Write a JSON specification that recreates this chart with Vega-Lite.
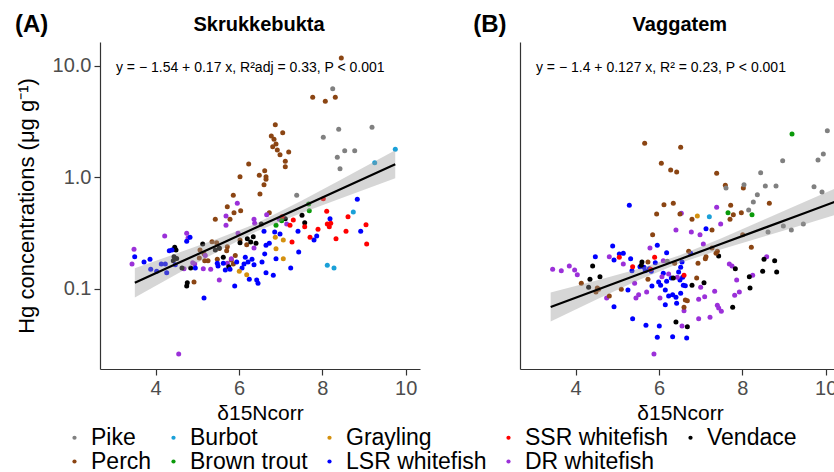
{
  "$schema": "https://vega.github.io/schema/vega-lite/v6.json",
  "padding": {"left": 15, "top": 13, "right": 0, "bottom": 0},
  "bounds": "flush",
  "spacing": 100,
  "datasets": {
    "skr": [
      {"species":"Perch","d15N":5.863,"Hg":0.690},{"species":"Perch","d15N":6.503,"Hg":0.710},{"species":"Perch","d15N":5.719,"Hg":0.546},{"species":"Perch","d15N":5.88,"Hg":0.482},{"species":"Perch","d15N":6.04,"Hg":0.503},{"species":"Perch","d15N":5.431,"Hg":0.421},{"species":"Perch","d15N":5.784,"Hg":0.421},{"species":"Perch","d15N":5.352,"Hg":0.265},{"species":"Perch","d15N":5.464,"Hg":0.260},{"species":"Perch","d15N":5.719,"Hg":0.239},{"species":"Perch","d15N":5.704,"Hg":0.220},{"species":"Perch","d15N":5.527,"Hg":0.230},{"species":"Perch","d15N":5.064,"Hg":0.2235},{"species":"Perch","d15N":5.16,"Hg":0.206},{"species":"Perch","d15N":5.047,"Hg":0.1895},{"species":"Perch","d15N":5.177,"Hg":0.179},{"species":"Perch","d15N":5.256,"Hg":0.179},{"species":"Perch","d15N":5.479,"Hg":0.1845},{"species":"Perch","d15N":5.911,"Hg":0.200},{"species":"Perch","d15N":5.815,"Hg":0.182},{"species":"Perch","d15N":5.863,"Hg":0.1675},{"species":"Perch","d15N":4.92,"Hg":0.1155},{"species":"Perch","d15N":6.185,"Hg":0.249},{"species":"Perch","d15N":6.024,"Hg":0.2747},{"species":"Perch","d15N":6.727,"Hg":0.482},
      {"species":"Perch","d15N":8.455,"Hg":11.72},{"species":"Perch","d15N":7.769,"Hg":5.21},{"species":"Perch","d15N":8.071,"Hg":4.80},{"species":"Perch","d15N":8.311,"Hg":5.21},{"species":"Perch","d15N":6.871,"Hg":2.96},{"species":"Perch","d15N":7.049,"Hg":2.51},{"species":"Perch","d15N":6.775,"Hg":2.346},{"species":"Perch","d15N":6.84,"Hg":2.19},{"species":"Perch","d15N":6.888,"Hg":1.99},{"species":"Perch","d15N":6.809,"Hg":1.88},{"species":"Perch","d15N":6.919,"Hg":1.757},{"species":"Perch","d15N":6.984,"Hg":1.595},{"species":"Perch","d15N":7.193,"Hg":1.686},{"species":"Perch","d15N":7.111,"Hg":1.392},{"species":"Perch","d15N":7.111,"Hg":1.246},{"species":"Perch","d15N":6.233,"Hg":1.317},{"species":"Perch","d15N":6.024,"Hg":1.013},{"species":"Perch","d15N":6.487,"Hg":1.043},{"species":"Perch","d15N":6.617,"Hg":1.147},{"species":"Perch","d15N":6.648,"Hg":1.013},{"species":"Perch","d15N":6.648,"Hg":0.960},{"species":"Perch","d15N":6.6,"Hg":0.859},
      {"species":"DR whitefish","d15N":5.959,"Hg":0.586},{"species":"DR whitefish","d15N":5.688,"Hg":0.4505},{"species":"DR whitefish","d15N":5.688,"Hg":0.372},{"species":"DR whitefish","d15N":6.36,"Hg":0.421},{"species":"DR whitefish","d15N":6.664,"Hg":0.463},{"species":"DR whitefish","d15N":6.377,"Hg":0.388},{"species":"DR whitefish","d15N":4.217,"Hg":0.298},{"species":"DR whitefish","d15N":4.745,"Hg":0.315},{"species":"DR whitefish","d15N":4.776,"Hg":0.286},{"species":"DR whitefish","d15N":3.48,"Hg":0.2267},{"species":"DR whitefish","d15N":3.432,"Hg":0.1675},{"species":"DR whitefish","d15N":5.976,"Hg":0.315},{"species":"DR whitefish","d15N":6.36,"Hg":0.233},{"species":"DR whitefish","d15N":5.191,"Hg":0.200},{"species":"DR whitefish","d15N":4.889,"Hg":0.172},{"species":"DR whitefish","d15N":4.937,"Hg":0.1675},{"species":"DR whitefish","d15N":4.68,"Hg":0.152},{"species":"DR whitefish","d15N":5.143,"Hg":0.152},{"species":"DR whitefish","d15N":5.321,"Hg":0.150},{"species":"DR whitefish","d15N":5.527,"Hg":0.1204},{"species":"DR whitefish","d15N":5.719,"Hg":0.170},{"species":"DR whitefish","d15N":5.815,"Hg":0.1867},{"species":"DR whitefish","d15N":4.553,"Hg":0.0262},{"species":"DR whitefish","d15N":6.967,"Hg":0.421},{"species":"DR whitefish","d15N":7.145,"Hg":0.382},
      {"species":"Vendace","d15N":4.457,"Hg":0.236},{"species":"Vendace","d15N":4.488,"Hg":0.2235},{"species":"Vendace","d15N":4.44,"Hg":0.1946},{"species":"Vendace","d15N":4.504,"Hg":0.188},{"species":"Vendace","d15N":4.423,"Hg":0.179},{"species":"Vendace","d15N":5.129,"Hg":0.253},{"species":"Vendace","d15N":5.431,"Hg":0.2235},{"species":"Vendace","d15N":5.527,"Hg":0.233},{"species":"Vendace","d15N":6.024,"Hg":0.260},{"species":"Vendace","d15N":6.199,"Hg":0.282},{"species":"Vendace","d15N":6.281,"Hg":0.2636},{"species":"Vendace","d15N":6.408,"Hg":0.2566},{"species":"Vendace","d15N":6.535,"Hg":0.382},{"species":"Vendace","d15N":6.343,"Hg":0.294},{"species":"Vendace","d15N":4.632,"Hg":0.154},{"species":"Vendace","d15N":4.841,"Hg":0.154},{"species":"Vendace","d15N":5.623,"Hg":0.192},{"species":"Vendace","d15N":5.753,"Hg":0.1584},{"species":"Vendace","d15N":4.759,"Hg":0.1139},{"species":"Vendace","d15N":4.745,"Hg":0.1064},{"species":"Vendace","d15N":7.512,"Hg":0.457},{"species":"Vendace","d15N":7.577,"Hg":0.3925},{"species":"Vendace","d15N":7.111,"Hg":0.426},
      {"species":"LSR whitefish","d15N":3.497,"Hg":0.1946},{"species":"LSR whitefish","d15N":3.72,"Hg":0.1745},{"species":"LSR whitefish","d15N":3.864,"Hg":0.1845},{"species":"LSR whitefish","d15N":3.881,"Hg":0.150},{"species":"LSR whitefish","d15N":4.025,"Hg":0.144},{"species":"LSR whitefish","d15N":4.135,"Hg":0.1675},{"species":"LSR whitefish","d15N":4.231,"Hg":0.1675},{"species":"LSR whitefish","d15N":4.265,"Hg":0.140},{"species":"LSR whitefish","d15N":4.471,"Hg":0.165},{"species":"LSR whitefish","d15N":4.327,"Hg":0.220},{"species":"LSR whitefish","d15N":4.392,"Hg":0.2235},{"species":"LSR whitefish","d15N":4.745,"Hg":0.2675},{"species":"LSR whitefish","d15N":4.824,"Hg":0.290},{"species":"LSR whitefish","d15N":6.6,"Hg":0.3286},{"species":"LSR whitefish","d15N":6.648,"Hg":0.246},{"species":"LSR whitefish","d15N":6.617,"Hg":0.206},{"species":"LSR whitefish","d15N":6.552,"Hg":0.1745},{"species":"LSR whitefish","d15N":6.151,"Hg":0.192},{"species":"LSR whitefish","d15N":6.12,"Hg":0.1675},{"species":"LSR whitefish","d15N":6.216,"Hg":0.1745},{"species":"LSR whitefish","d15N":6.312,"Hg":0.1845},{"species":"LSR whitefish","d15N":6.36,"Hg":0.165},{"species":"LSR whitefish","d15N":6.072,"Hg":0.154},{"species":"LSR whitefish","d15N":5.945,"Hg":0.1745},{"species":"LSR whitefish","d15N":5.623,"Hg":0.170},{"species":"LSR whitefish","d15N":5.479,"Hg":0.170},{"species":"LSR whitefish","d15N":5.671,"Hg":0.148},{"species":"LSR whitefish","d15N":5.784,"Hg":0.150},{"species":"LSR whitefish","d15N":4.951,"Hg":0.154},{"species":"LSR whitefish","d15N":5.496,"Hg":0.1607},{"species":"LSR whitefish","d15N":5.897,"Hg":0.1064},{"species":"LSR whitefish","d15N":6.247,"Hg":0.1221},{"species":"LSR whitefish","d15N":6.425,"Hg":0.1204},{"species":"LSR whitefish","d15N":6.456,"Hg":0.1125},{"species":"LSR whitefish","d15N":5.16,"Hg":0.0831},{"species":"LSR whitefish","d15N":6.648,"Hg":0.140},{"species":"LSR whitefish","d15N":6.727,"Hg":0.2566},{"species":"LSR whitefish","d15N":8.839,"Hg":0.636},{"species":"LSR whitefish","d15N":8.184,"Hg":0.426},{"species":"LSR whitefish","d15N":6.857,"Hg":0.324},{"species":"LSR whitefish","d15N":6.984,"Hg":0.311},{"species":"LSR whitefish","d15N":7.416,"Hg":0.3286},{"species":"LSR whitefish","d15N":7.865,"Hg":0.298},{"species":"LSR whitefish","d15N":7.8,"Hg":0.2747},{"species":"LSR whitefish","d15N":7.433,"Hg":0.2145},{"species":"LSR whitefish","d15N":6.888,"Hg":0.1867},{"species":"LSR whitefish","d15N":7.241,"Hg":0.154},{"species":"LSR whitefish","d15N":6.823,"Hg":0.1326},{"species":"LSR whitefish","d15N":8.921,"Hg":0.3286},
      {"species":"Grayling","d15N":6.007,"Hg":0.144},{"species":"Grayling","d15N":6.185,"Hg":0.134},{"species":"Grayling","d15N":6.871,"Hg":0.290},{"species":"Grayling","d15N":7.063,"Hg":0.2747},{"species":"Grayling","d15N":6.888,"Hg":0.2296},{"species":"Grayling","d15N":7.063,"Hg":0.1867},
      {"species":"SSR whitefish","d15N":8.023,"Hg":0.644},{"species":"SSR whitefish","d15N":8.105,"Hg":0.4965},{"species":"SSR whitefish","d15N":7.032,"Hg":0.444},{"species":"SSR whitefish","d15N":7.303,"Hg":0.415},{"species":"SSR whitefish","d15N":7.224,"Hg":0.372},{"species":"SSR whitefish","d15N":7.577,"Hg":0.361},{"species":"SSR whitefish","d15N":8.119,"Hg":0.382},{"species":"SSR whitefish","d15N":8.201,"Hg":0.388},{"species":"SSR whitefish","d15N":8.167,"Hg":0.361},{"species":"SSR whitefish","d15N":7.896,"Hg":0.3425},{"species":"SSR whitefish","d15N":8.328,"Hg":0.282},{"species":"SSR whitefish","d15N":7.704,"Hg":0.290},{"species":"SSR whitefish","d15N":7.272,"Hg":0.2636},{"species":"SSR whitefish","d15N":8.568,"Hg":0.3286},{"species":"SSR whitefish","d15N":8.616,"Hg":0.444},{"species":"SSR whitefish","d15N":9.048,"Hg":0.3766},{"species":"SSR whitefish","d15N":9.064,"Hg":0.253},
      {"species":"Brown trout","d15N":7.673,"Hg":0.577},{"species":"Brown trout","d15N":7.687,"Hg":0.503},{"species":"Brown trout","d15N":6.888,"Hg":0.372},{"species":"Brown trout","d15N":7.024,"Hg":0.409},
      {"species":"Pike","d15N":7.385,"Hg":0.690},{"species":"Pike","d15N":8.249,"Hg":6.22},{"species":"Pike","d15N":8.393,"Hg":2.694},{"species":"Pike","d15N":9.192,"Hg":2.808},{"species":"Pike","d15N":8.023,"Hg":2.284},{"species":"Pike","d15N":8.537,"Hg":1.732},{"species":"Pike","d15N":8.777,"Hg":1.732},{"species":"Pike","d15N":8.359,"Hg":1.512},{"species":"Pike","d15N":8.424,"Hg":1.195},
      {"species":"Burbot","d15N":8.743,"Hg":0.489},{"species":"Burbot","d15N":8.119,"Hg":0.163},{"species":"Burbot","d15N":8.28,"Hg":0.154},{"species":"Burbot","d15N":9.751,"Hg":1.783},{"species":"Burbot","d15N":9.257,"Hg":1.353}
    ],
    "vag": [
      {"species":"LSR whitefish","d15N":4.888,"Hg":0.2427},{"species":"LSR whitefish","d15N":4.472,"Hg":0.1948},{"species":"LSR whitefish","d15N":4.92,"Hg":0.1818},{"species":"LSR whitefish","d15N":5.047,"Hg":0.2058},{"species":"LSR whitefish","d15N":5.143,"Hg":0.2086},{"species":"LSR whitefish","d15N":5.319,"Hg":0.1869},{"species":"LSR whitefish","d15N":5.351,"Hg":0.1459},{"species":"LSR whitefish","d15N":5.543,"Hg":0.1585},{"species":"LSR whitefish","d15N":5.671,"Hg":0.1459},{"species":"LSR whitefish","d15N":5.767,"Hg":0.152},{"species":"LSR whitefish","d15N":5.815,"Hg":0.1439},{"species":"LSR whitefish","d15N":5.911,"Hg":0.172},{"species":"LSR whitefish","d15N":5.959,"Hg":0.246},{"species":"LSR whitefish","d15N":6.183,"Hg":0.2115},{"species":"LSR whitefish","d15N":5.255,"Hg":0.0979},{"species":"LSR whitefish","d15N":4.92,"Hg":0.0694},{"species":"LSR whitefish","d15N":5.831,"Hg":0.1063},{"species":"LSR whitefish","d15N":5.991,"Hg":0.1155},{"species":"LSR whitefish","d15N":6.039,"Hg":0.1081},{"species":"LSR whitefish","d15N":6.183,"Hg":0.1171},{"species":"LSR whitefish","d15N":6.151,"Hg":0.0979},{"species":"LSR whitefish","d15N":6.295,"Hg":0.1254},{"species":"LSR whitefish","d15N":6.471,"Hg":0.1419},{"species":"LSR whitefish","d15N":6.503,"Hg":0.1204},{"species":"LSR whitefish","d15N":6.231,"Hg":0.0865},{"species":"LSR whitefish","d15N":6.327,"Hg":0.0889},{"species":"LSR whitefish","d15N":6.407,"Hg":0.0842},{"species":"LSR whitefish","d15N":6.151,"Hg":0.0724},{"species":"LSR whitefish","d15N":6.423,"Hg":0.0744},{"species":"LSR whitefish","d15N":5.367,"Hg":0.0542},{"species":"LSR whitefish","d15N":5.687,"Hg":0.0473},{"species":"LSR whitefish","d15N":6.007,"Hg":0.0466},{"species":"LSR whitefish","d15N":5.959,"Hg":0.0369},{"species":"LSR whitefish","d15N":6.327,"Hg":0.0374},{"species":"LSR whitefish","d15N":6.103,"Hg":0.138},{"species":"LSR whitefish","d15N":5.639,"Hg":0.1563},{"species":"LSR whitefish","d15N":5.2875,"Hg":0.5614},{"species":"LSR whitefish","d15N":7.128,"Hg":0.347},{"species":"LSR whitefish","d15N":6.76,"Hg":0.2087},{"species":"LSR whitefish","d15N":6.552,"Hg":0.1745},{"species":"LSR whitefish","d15N":6.52,"Hg":0.1563},{"species":"LSR whitefish","d15N":6.568,"Hg":0.1272},{"species":"LSR whitefish","d15N":6.584,"Hg":0.1081},{"species":"LSR whitefish","d15N":6.632,"Hg":0.1069},{"species":"LSR whitefish","d15N":6.52,"Hg":0.0914},{"species":"LSR whitefish","d15N":6.664,"Hg":0.0364},
      {"species":"DR whitefish","d15N":3.4475,"Hg":0.15},{"species":"DR whitefish","d15N":3.655,"Hg":0.1459},{"species":"DR whitefish","d15N":3.847,"Hg":0.1607},{"species":"DR whitefish","d15N":3.975,"Hg":0.148},{"species":"DR whitefish","d15N":4.039,"Hg":0.1343},{"species":"DR whitefish","d15N":4.807,"Hg":0.1948},{"species":"DR whitefish","d15N":5.143,"Hg":0.1675},{"species":"DR whitefish","d15N":5.415,"Hg":0.1123},{"species":"DR whitefish","d15N":5.511,"Hg":0.0889},{"species":"DR whitefish","d15N":5.447,"Hg":0.083},{"species":"DR whitefish","d15N":5.703,"Hg":0.094},{"species":"DR whitefish","d15N":4.743,"Hg":0.083},{"species":"DR whitefish","d15N":5.783,"Hg":0.233},{"species":"DR whitefish","d15N":6.023,"Hg":0.083},{"species":"DR whitefish","d15N":6.071,"Hg":0.1289},{"species":"DR whitefish","d15N":6.103,"Hg":0.1793},{"species":"DR whitefish","d15N":6.231,"Hg":0.1362},{"species":"DR whitefish","d15N":6.407,"Hg":0.3376},{"species":"DR whitefish","d15N":6.439,"Hg":0.1272},{"species":"DR whitefish","d15N":5.879,"Hg":0.0262},{"species":"DR whitefish","d15N":7.48,"Hg":0.382},{"species":"DR whitefish","d15N":6.776,"Hg":0.3239},{"species":"DR whitefish","d15N":6.984,"Hg":0.3066},{"species":"DR whitefish","d15N":7.064,"Hg":0.253},{"species":"DR whitefish","d15N":7.688,"Hg":0.1675},{"species":"DR whitefish","d15N":7.752,"Hg":0.1607},{"species":"DR whitefish","d15N":8.584,"Hg":0.1948},{"species":"DR whitefish","d15N":7.864,"Hg":0.1204},{"species":"DR whitefish","d15N":7.0,"Hg":0.1035},{"species":"DR whitefish","d15N":7.336,"Hg":0.0953},{"species":"DR whitefish","d15N":7.096,"Hg":0.0853},{"species":"DR whitefish","d15N":6.952,"Hg":0.0808},{"species":"DR whitefish","d15N":7.816,"Hg":0.0877},{"species":"DR whitefish","d15N":7.928,"Hg":0.094},{"species":"DR whitefish","d15N":7.4,"Hg":0.0714},{"species":"DR whitefish","d15N":7.432,"Hg":0.0675},{"species":"DR whitefish","d15N":7.496,"Hg":0.0631},{"species":"DR whitefish","d15N":7.224,"Hg":0.0557},{"species":"DR whitefish","d15N":6.952,"Hg":0.0542},{"species":"DR whitefish","d15N":8.248,"Hg":0.1325},{"species":"DR whitefish","d15N":6.6,"Hg":0.0639},{"species":"DR whitefish","d15N":6.552,"Hg":0.0466},{"species":"DR whitefish","d15N":7.384,"Hg":0.5387},{"species":"DR whitefish","d15N":6.5355,"Hg":0.476},
      {"species":"Vendace","d15N":4.407,"Hg":0.1607},{"species":"Vendace","d15N":4.343,"Hg":0.1221},{"species":"Vendace","d15N":4.583,"Hg":0.1289},{"species":"Vendace","d15N":4.311,"Hg":0.1035},{"species":"Vendace","d15N":5.591,"Hg":0.1745},{"species":"Vendace","d15N":5.575,"Hg":0.1629},{"species":"Vendace","d15N":6.343,"Hg":0.1254},{"species":"Vendace","d15N":6.407,"Hg":0.0506},{"species":"Vendace","d15N":7.432,"Hg":0.1974},{"species":"Vendace","d15N":7.832,"Hg":0.152},{"species":"Vendace","d15N":8.52,"Hg":0.1843},{"species":"Vendace","d15N":8.776,"Hg":0.1794},{"species":"Vendace","d15N":8.488,"Hg":0.1439},{"species":"Vendace","d15N":8.824,"Hg":0.1419},{"species":"Vendace","d15N":7.08,"Hg":0.1139},{"species":"Vendace","d15N":6.792,"Hg":0.1078},{"species":"Vendace","d15N":8.168,"Hg":0.1289},{"species":"Vendace","d15N":8.184,"Hg":0.102},{"species":"Vendace","d15N":7.768,"Hg":0.0685},{"species":"Vendace","d15N":6.68,"Hg":0.046},
      {"species":"SSR whitefish","d15N":5.047,"Hg":0.192},{"species":"SSR whitefish","d15N":5.367,"Hg":0.1585},{"species":"SSR whitefish","d15N":5.799,"Hg":0.15},{"species":"SSR whitefish","d15N":5.895,"Hg":0.192},{"species":"SSR whitefish","d15N":6.6,"Hg":0.1325},
      {"species":"Perch","d15N":4.135,"Hg":0.1123},{"species":"Perch","d15N":4.519,"Hg":0.102},{"species":"Perch","d15N":4.487,"Hg":0.094},{"species":"Perch","d15N":4.551,"Hg":0.0993},{"species":"Perch","d15N":5.095,"Hg":0.0993},{"species":"Perch","d15N":4.807,"Hg":0.0865},{"species":"Perch","d15N":5.735,"Hg":0.1745},{"species":"Perch","d15N":5.735,"Hg":0.1221},{"species":"Perch","d15N":5.847,"Hg":0.3066},{"species":"Perch","d15N":5.943,"Hg":0.4695},{"species":"Perch","d15N":6.375,"Hg":0.1698},{"species":"Perch","d15N":6.503,"Hg":0.4695},{"species":"Perch","d15N":6.792,"Hg":0.4206},{"species":"Perch","d15N":7.784,"Hg":0.463},{"species":"Perch","d15N":7.976,"Hg":0.4828},{"species":"Perch","d15N":7.704,"Hg":0.4206},{"species":"Perch","d15N":7.272,"Hg":0.3376},{"species":"Perch","d15N":8.008,"Hg":0.3066},{"species":"Perch","d15N":8.216,"Hg":0.236},{"species":"Perch","d15N":6.712,"Hg":0.2175},{"species":"Perch","d15N":7.272,"Hg":0.233},{"species":"Perch","d15N":7.4,"Hg":0.2175},{"species":"Perch","d15N":7.368,"Hg":0.2087},{"species":"Perch","d15N":7.128,"Hg":0.1948},{"species":"Perch","d15N":7.112,"Hg":0.1869},{"species":"Perch","d15N":6.936,"Hg":0.1698},{"species":"Perch","d15N":6.904,"Hg":0.1254},{"species":"Perch","d15N":6.632,"Hg":0.0797},{"species":"Perch","d15N":6.68,"Hg":0.0786},{"species":"Perch","d15N":6.6,"Hg":0.0685},{"species":"Perch","d15N":6.119,"Hg":0.5692},{"species":"Perch","d15N":6.343,"Hg":0.5853},{"species":"Perch","d15N":7.72,"Hg":0.5614},{"species":"Perch","d15N":8.648,"Hg":0.5855},{"species":"Perch","d15N":5.656,"Hg":2.016},{"species":"Perch","d15N":6.52,"Hg":1.857},{"species":"Perch","d15N":6.056,"Hg":1.335},{"species":"Perch","d15N":6.28,"Hg":1.163},{"species":"Perch","d15N":6.424,"Hg":1.116},{"species":"Perch","d15N":7.384,"Hg":1.086},{"species":"Perch","d15N":7.592,"Hg":0.848},{"species":"Perch","d15N":8.024,"Hg":0.8023},
      {"species":"Grayling","d15N":6.92,"Hg":0.4505},
      {"species":"Burbot","d15N":7.208,"Hg":0.4445},
      {"species":"Brown trout","d15N":7.656,"Hg":0.4828},{"species":"Brown trout","d15N":8.232,"Hg":0.463},{"species":"Brown trout","d15N":9.192,"Hg":2.444},
      {"species":"Pike","d15N":8.984,"Hg":0.3666},{"species":"Pike","d15N":9.176,"Hg":0.3376},{"species":"Pike","d15N":9.464,"Hg":0.382},{"species":"Pike","d15N":8.616,"Hg":0.3239},{"species":"Pike","d15N":6.199,"Hg":0.1769},{"species":"Pike","d15N":8.152,"Hg":0.51},{"species":"Pike","d15N":8.36,"Hg":0.6994},{"species":"Pike","d15N":8.264,"Hg":0.6016},{"species":"Pike","d15N":9.912,"Hg":0.7392},{"species":"Pike","d15N":10.04,"Hg":2.618},{"species":"Pike","d15N":9.944,"Hg":1.618},{"species":"Pike","d15N":9.816,"Hg":1.43},{"species":"Pike","d15N":8.968,"Hg":1.41},{"species":"Pike","d15N":8.44,"Hg":1.101},{"species":"Pike","d15N":8.552,"Hg":0.836},{"species":"Pike","d15N":8.808,"Hg":0.836},{"species":"Pike","d15N":7.608,"Hg":0.8023},{"species":"Pike","d15N":8.04,"Hg":0.8596},{"species":"Pike","d15N":9.72,"Hg":0.8245}
    ],
    "fitskr": [
      {"d15N":3.5,"fit":0.1135,"lo":0.0841,"hi":0.153},
      {"d15N":4.5,"fit":0.1679,"lo":0.1355,"hi":0.208},
      {"d15N":5.5,"fit":0.2483,"lo":0.218,"hi":0.283},
      {"d15N":6.4,"fit":0.3532,"lo":0.325,"hi":0.384},
      {"d15N":7.5,"fit":0.5433,"lo":0.479,"hi":0.617},
      {"d15N":8.5,"fit":0.8035,"lo":0.661,"hi":0.977},
      {"d15N":9.75,"fit":1.311,"lo":0.983,"hi":1.748}
    ],
    "fitvag": [
      {"d15N":3.4,"fit":0.069,"lo":0.0512,"hi":0.0931},
      {"d15N":4.5,"fit":0.0979,"lo":0.0805,"hi":0.119},
      {"d15N":5.5,"fit":0.1346,"lo":0.12,"hi":0.151},
      {"d15N":6.5,"fit":0.1849,"lo":0.1706,"hi":0.2005},
      {"d15N":7.5,"fit":0.2541,"lo":0.2265,"hi":0.285},
      {"d15N":8.5,"fit":0.3491,"lo":0.2938,"hi":0.415},
      {"d15N":9.5,"fit":0.4797,"lo":0.381,"hi":0.604},
      {"d15N":10.34,"fit":0.6266,"lo":0.4737,"hi":0.8289}
    ],
    "labskr": [{"tag":"(A)","title":"Skrukkebukta","eq":"y = − 1.54 + 0.17 x, R²adj = 0.33, P < 0.001"}],
    "labvag": [{"tag":"(B)","title":"Vaggatem","eq":"y = − 1.4 + 0.127 x, R² = 0.23, P < 0.001"}]
  },
  "hconcat": [
    {
      "width": 320, "height": 327,
      "layer": [
        {
          "data": {"name": "skr"},
          "mark": {"type": "circle", "size": 25, "opacity": 1},
          "encoding": {
            "x": {"field": "d15N", "type": "quantitative", "scale": {"domain": [2.664, 10.344], "nice": false, "zero": false},
                  "axis": {"values": [4, 6, 8, 10], "title": "δ15Ncorr"}},
            "y": {"field": "Hg", "type": "quantitative", "scale": {"type": "log", "domain": [0.0192, 16.31], "nice": false},
                  "axis": {"values": [0.1, 1, 10], "format": ".1f", "title": "Hg concentrations (μg g⁻¹)"}},
            "color": {"field": "species", "type": "nominal",
              "scale": {"domain": ["Pike","Burbot","Grayling","SSR whitefish","Vendace","Perch","Brown trout","LSR whitefish","DR whitefish"],
                        "range": ["#808080","#1AA0D8","#D4900E","#FF0000","#000000","#8B4513","#0A9A0A","#0000FF","#9B30D9"]},
              "legend": {"title": null, "orient": "none", "legendX": -37, "legendY": 384, "direction": "horizontal", "columns": 5}}
          }
        },
        {
          "data": {"name": "fitskr"},
          "mark": {"type": "area", "color": "#999999", "opacity": 0.4},
          "encoding": {"x": {"field": "d15N", "type": "quantitative"}, "y": {"field": "lo", "type": "quantitative"}, "y2": {"field": "hi"}}
        },
        {
          "data": {"name": "fitskr"},
          "mark": {"type": "line", "color": "#000000", "strokeWidth": 2.2},
          "encoding": {"x": {"field": "d15N", "type": "quantitative"}, "y": {"field": "fit", "type": "quantitative"}}
        },
        {
          "data": {"name": "labskr"},
          "mark": {"type": "text", "align": "left", "baseline": "middle", "fontSize": 14, "color": "#000000"},
          "encoding": {"x": {"datum": 3.047}, "y": {"datum": 9.54}, "text": {"field": "eq"}}
        },
        {
          "data": {"name": "labskr"},
          "mark": {"type": "text", "align": "left", "baseline": "alphabetic", "fontSize": 24, "fontWeight": "bold", "clip": false, "color": "#000000"},
          "encoding": {"x": {"datum": 0.624}, "y": {"datum": 19.9}, "text": {"field": "tag"}}
        },
        {
          "data": {"name": "labskr"},
          "mark": {"type": "text", "align": "center", "baseline": "alphabetic", "fontSize": 20, "fontWeight": "bold", "clip": false, "color": "#000000"},
          "encoding": {"x": {"datum": 6.48}, "y": {"datum": 20.5}, "text": {"field": "title"}}
        }
      ]
    },
    {
      "width": 320, "height": 327,
      "layer": [
        {
          "data": {"name": "vag"},
          "mark": {"type": "circle", "size": 25, "opacity": 1},
          "encoding": {
            "x": {"field": "d15N", "type": "quantitative", "scale": {"domain": [2.664, 10.344], "nice": false, "zero": false},
                  "axis": {"values": [4, 6, 8, 10], "title": "δ15Ncorr"}},
            "y": {"field": "Hg", "type": "quantitative", "scale": {"type": "log", "domain": [0.0192, 16.31], "nice": false},
                  "axis": {"labels": false, "ticks": false, "title": null}},
            "color": {"field": "species", "type": "nominal",
              "scale": {"domain": ["Pike","Burbot","Grayling","SSR whitefish","Vendace","Perch","Brown trout","LSR whitefish","DR whitefish"],
                        "range": ["#808080","#1AA0D8","#D4900E","#FF0000","#000000","#8B4513","#0A9A0A","#0000FF","#9B30D9"]},
              "legend": {"title": null, "orient": "none", "legendX": -37, "legendY": 384, "direction": "horizontal", "columns": 5}}
          }
        },
        {
          "data": {"name": "fitvag"},
          "mark": {"type": "area", "color": "#999999", "opacity": 0.4},
          "encoding": {"x": {"field": "d15N", "type": "quantitative"}, "y": {"field": "lo", "type": "quantitative"}, "y2": {"field": "hi"}}
        },
        {
          "data": {"name": "fitvag"},
          "mark": {"type": "line", "color": "#000000", "strokeWidth": 2.2},
          "encoding": {"x": {"field": "d15N", "type": "quantitative"}, "y": {"field": "fit", "type": "quantitative"}}
        },
        {
          "data": {"name": "labvag"},
          "mark": {"type": "text", "align": "left", "baseline": "middle", "fontSize": 14, "color": "#000000"},
          "encoding": {"x": {"datum": 3.047}, "y": {"datum": 9.54}, "text": {"field": "eq"}}
        },
        {
          "data": {"name": "labvag"},
          "mark": {"type": "text", "align": "left", "baseline": "alphabetic", "fontSize": 24, "fontWeight": "bold", "clip": false, "color": "#000000"},
          "encoding": {"x": {"datum": 1.543}, "y": {"datum": 19.9}, "text": {"field": "tag"}}
        },
        {
          "data": {"name": "labvag"},
          "mark": {"type": "text", "align": "center", "baseline": "alphabetic", "fontSize": 20, "fontWeight": "bold", "clip": false, "color": "#000000"},
          "encoding": {"x": {"datum": 6.5}, "y": {"datum": 20.5}, "text": {"field": "title"}}
        }
      ]
    }
  ],
  "resolve": {"scale": {"color": "shared"}},
  "config": {
    "font": "Liberation Sans",
    "view": {"stroke": null},
    "axis": {
      "grid": false,
      "domainColor": "#333333", "domainWidth": 1.2,
      "tickColor": "#333333", "tickSize": 6, "tickWidth": 1.2,
      "labelColor": "#4D4D4D", "labelFontSize": 20, "labelPadding": 3,
      "titleColor": "#000000", "titleFontSize": 21, "titleFontWeight": "normal", "titlePadding": 4
    },
    "axisY": {"titleFontSize": 22, "titlePadding": 14},
    "legend": {
      "labelFontSize": 23, "labelColor": "#000000", "symbolSize": 18, "symbolType": "circle",
      "columnPadding": 10, "rowPadding": -1, "labelOffset": 5, "symbolStrokeWidth": 0
    }
  }
}
